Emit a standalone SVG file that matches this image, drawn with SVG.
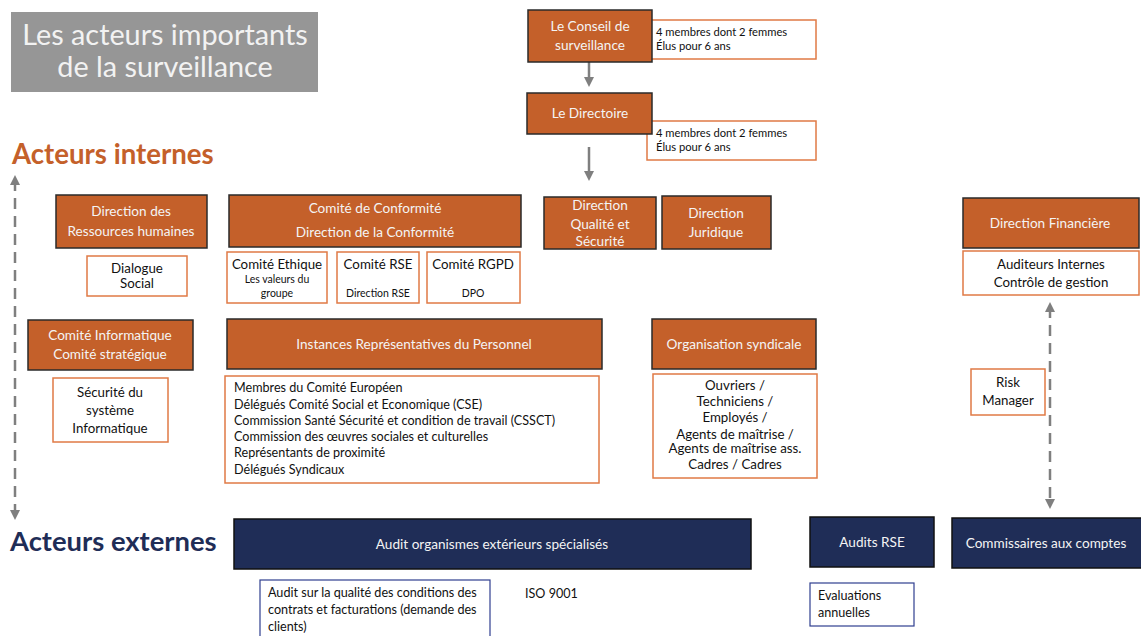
<svg xmlns="http://www.w3.org/2000/svg" width="1141" height="636" viewBox="0 0 1141 636">
<defs>
<style>
.t{font-family:Lato,"Open Sans","Liberation Sans",sans-serif}
.ob{fill:#C4602A;stroke:#2a2a2a;stroke-width:1.5}
.nb{fill:#1F2D57;stroke:#111;stroke-width:1.5}
.wb{fill:#fff;stroke:#E07A45;stroke-width:1.5}
.bb{fill:#fff;stroke:#2F3F8F;stroke-width:1.2}
.wt{fill:#F4F4F4;font-size:13.6px;text-anchor:middle}
.kt{fill:#111;font-size:13.3px;text-anchor:middle}
.st{fill:#111;font-size:10.5px;text-anchor:middle}
.lt{fill:#111;font-size:12.6px}
.nt{fill:#111;font-size:11.2px}
.ln{stroke:#7F7F7F;stroke-width:2.5;fill:none}
.dl{stroke:#7F7F7F;stroke-width:2.5;fill:none;stroke-dasharray:11 7}
</style>
<marker id="ah" viewBox="0 0 10 10" refX="5" refY="5" markerWidth="4" markerHeight="4" orient="auto-start-reverse"><path d="M0,0 L10,5 L0,10 z" fill="#7F7F7F"/></marker>
</defs>
<rect width="1141" height="636" fill="#fff"/>

<g id="title">
<rect x="11" y="12" width="307" height="80" fill="#969696"/>
<text class="t" x="165" y="45" font-size="28.8" fill="#F2F2F2" text-anchor="middle">Les acteurs importants</text>
<text class="t" x="165" y="77" font-size="28.8" fill="#F2F2F2" text-anchor="middle">de la surveillance</text>
</g>
<g id="lbl-internes"><text class="t" x="12" y="164" font-size="27.6" font-weight="bold" fill="#C4602A">Acteurs internes</text></g>
<g id="lbl-externes"><text class="t" x="10" y="551" font-size="27.4" font-weight="bold" fill="#1F2D57">Acteurs externes</text></g>

<g id="connectors">
<line class="ln" x1="589" y1="62" x2="589" y2="82" marker-end="url(#ah)"/>
<line class="ln" x1="589" y1="147" x2="589" y2="176" marker-end="url(#ah)"/>
<line class="dl" x1="15" y1="180" x2="15" y2="515" marker-start="url(#ah)" marker-end="url(#ah)"/>
<line class="dl" x1="1050" y1="307" x2="1050" y2="504" marker-start="url(#ah)" marker-end="url(#ah)"/>
</g>

<g id="note-conseil">
<rect class="wb" x="647" y="20" width="169" height="39"/>
<text class="t nt" x="656" y="36">4 membres dont 2 femmes</text>
<text class="t nt" x="656" y="50">Élus pour 6 ans</text>
</g>
<g id="conseil">
<rect class="ob" x="528" y="10" width="124" height="52"/>
<text class="t wt" x="590" y="31">Le Conseil de</text>
<text class="t wt" x="590" y="50">surveillance</text>
</g>
<g id="note-directoire">
<rect class="wb" x="647" y="121" width="169" height="39"/>
<text class="t nt" x="656" y="137">4 membres dont 2 femmes</text>
<text class="t nt" x="656" y="151">Élus pour 6 ans</text>
</g>
<g id="directoire">
<rect class="ob" x="527" y="93" width="125" height="41"/>
<text class="t wt" x="590" y="118">Le Directoire</text>
</g>

<g id="drh">
<rect class="ob" x="56" y="195" width="151" height="53"/>
<text class="t wt" x="131" y="216">Direction des</text>
<text class="t wt" x="131" y="236">Ressources humaines</text>
</g>
<g id="dialogue">
<rect class="wb" x="87" y="256" width="100" height="40"/>
<text class="t kt" x="137" y="273">Dialogue</text>
<text class="t kt" x="137" y="288">Social</text>
</g>
<g id="conformite">
<rect class="ob" x="229" y="195" width="292" height="52"/>
<text class="t wt" x="375" y="213">Comité de Conformité</text>
<text class="t wt" x="375" y="237">Direction  de la Conformité</text>
</g>
<g id="ethique">
<rect class="wb" x="227" y="252" width="100" height="51"/>
<text class="t kt" x="277" y="269" font-size="12.6">Comité Ethique</text>
<text class="t st" x="277" y="283">Les valeurs du</text>
<text class="t st" x="277" y="297">groupe</text>
</g>
<g id="rse">
<rect class="wb" x="337" y="252" width="82" height="51"/>
<text class="t kt" x="378" y="269" font-size="12.6">Comité RSE</text>
<text class="t st" x="378" y="297">Direction RSE</text>
</g>
<g id="rgpd">
<rect class="wb" x="427" y="252" width="93" height="51"/>
<text class="t kt" x="473" y="269" font-size="12.6">Comité RGPD</text>
<text class="t st" x="473" y="297">DPO</text>
</g>
<g id="qualite">
<rect class="ob" x="544" y="197" width="112" height="52"/>
<text class="t wt" x="600" y="210">Direction</text>
<text class="t wt" x="600" y="229">Qualité et</text>
<text class="t wt" x="600" y="246">Sécurité</text>
</g>
<g id="juridique">
<rect class="ob" x="662" y="196" width="109" height="53"/>
<text class="t wt" x="716" y="218">Direction</text>
<text class="t wt" x="716" y="237">Juridique</text>
</g>
<g id="financiere">
<rect class="ob" x="963" y="198" width="176" height="50"/>
<text class="t wt" x="1050" y="228">Direction  Financière</text>
</g>
<g id="auditeurs">
<rect class="wb" x="963" y="251" width="176" height="44"/>
<text class="t kt" x="1051" y="269">Auditeurs Internes</text>
<text class="t kt" x="1051" y="287">Contrôle de gestion</text>
</g>

<g id="informatique">
<rect class="ob" x="28" y="320" width="165" height="50"/>
<text class="t wt" x="110" y="340">Comité Informatique</text>
<text class="t wt" x="110" y="359">Comité stratégique</text>
</g>
<g id="securite">
<rect class="wb" x="53" y="378" width="115" height="64"/>
<text class="t kt" x="110" y="397">Sécurité du</text>
<text class="t kt" x="110" y="415">système</text>
<text class="t kt" x="110" y="433">Informatique</text>
</g>
<g id="instances">
<rect class="ob" x="227" y="319" width="375" height="50"/>
<text class="t wt" x="414" y="349">Instances Représentatives du Personnel</text>
</g>
<g id="instances-list">
<rect class="wb" x="225" y="376" width="374" height="107"/>
<text class="t lt" x="234" y="392">Membres du Comité Européen</text>
<text class="t lt" x="234" y="409">Délégués Comité Social et Economique (CSE)</text>
<text class="t lt" x="234" y="425">Commission Santé Sécurité et condition de travail (CSSCT)</text>
<text class="t lt" x="234" y="441">Commission des œuvres sociales et culturelles</text>
<text class="t lt" x="234" y="457">Représentants de proximité</text>
<text class="t lt" x="234" y="474">Délégués Syndicaux</text>
</g>
<g id="syndicale">
<rect class="ob" x="652" y="319" width="164" height="50"/>
<text class="t wt" x="734" y="349">Organisation syndicale</text>
</g>
<g id="syndicale-list">
<rect class="wb" x="653" y="374" width="164" height="104"/>
<text class="t kt" x="735" y="390" font-size="12.6">Ouvriers /</text>
<text class="t kt" x="735" y="406" font-size="12.6">Techniciens /</text>
<text class="t kt" x="735" y="422" font-size="12.6">Employés /</text>
<text class="t kt" x="735" y="439" font-size="12.6">Agents de maîtrise /</text>
<text class="t kt" x="735" y="453" font-size="12.6">Agents de maîtrise ass.</text>
<text class="t kt" x="735" y="469" font-size="12.6">Cadres / Cadres</text>
</g>
<g id="risk">
<rect class="wb" x="971" y="369" width="74" height="46"/>
<text class="t kt" x="1008" y="387">Risk</text>
<text class="t kt" x="1008" y="405">Manager</text>
</g>

<g id="audit-ext">
<rect class="nb" x="234" y="519" width="517" height="50"/>
<text class="t wt" x="492" y="549">Audit organismes extérieurs spécialisés</text>
</g>
<g id="audit-qualite">
<rect class="bb" x="260" y="580" width="230" height="60"/>
<text class="t lt" x="268" y="597">Audit sur la qualité des conditions des</text>
<text class="t lt" x="268" y="614">contrats et facturations (demande des</text>
<text class="t lt" x="268" y="631">clients)</text>
</g>
<g id="iso"><text class="t lt" x="525" y="598">ISO 9001</text></g>
<g id="audits-rse">
<rect class="nb" x="810" y="517" width="124" height="50"/>
<text class="t wt" x="872" y="547">Audits RSE</text>
</g>
<g id="commissaires">
<rect class="nb" x="952" y="518" width="192" height="50"/>
<text class="t wt" x="1046" y="548">Commissaires aux comptes</text>
</g>
<g id="evaluations">
<rect class="bb" x="810" y="583" width="104" height="43"/>
<text class="t lt" x="818" y="600">Evaluations</text>
<text class="t lt" x="818" y="617">annuelles</text>
</g>
</svg>
